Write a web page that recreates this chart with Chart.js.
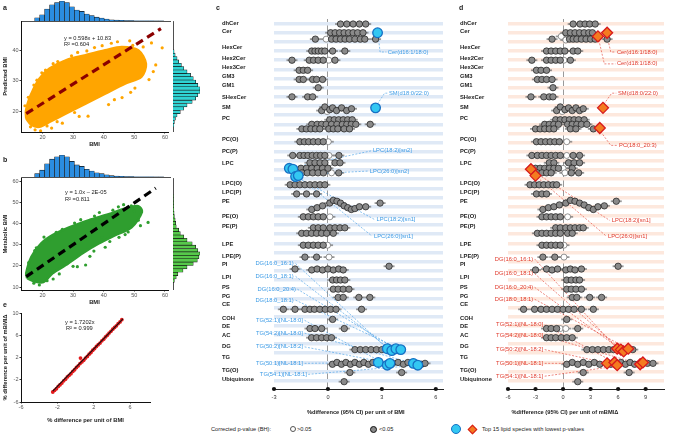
<!DOCTYPE html>
<html>
<head>
<meta charset="utf-8">
<title>BMI, metabolic BMI and lipid species</title>
<script src="https://cdn.jsdelivr.net/npm/chart.js@4.4.1/dist/chart.umd.min.js"></script>
<style>
  body { margin: 0; width: 674px; height: 436px; position: relative; overflow: hidden; background: #fff;
         font-family: "Liberation Sans", Arial, sans-serif; color: #222; }
  canvas { position: absolute; }
  .txt { position: absolute; white-space: nowrap; font-size: 5.7px; line-height: 6px; }
  .tag { position: absolute; font-weight: bold; font-size: 7px; line-height: 7px; }
  .dot { position: absolute; border-radius: 50%; box-sizing: border-box; }
</style>
</head>
<body>
<canvas id="aTop" width="172" height="22" style="left:0;top:0"></canvas>
<canvas id="aMain" width="172" height="141" style="left:0;top:10px"></canvas>
<canvas id="aRight" width="30" height="111" style="left:172px;top:21px"></canvas>
<canvas id="bTop" width="172" height="24" style="left:0;top:154px"></canvas>
<canvas id="bMain" width="172" height="141" style="left:0;top:165px"></canvas>
<canvas id="bRight" width="30" height="112" style="left:172px;top:178px"></canvas>
<canvas id="eMain" width="172" height="128" style="left:0;top:300px"></canvas>
<canvas id="cMain" width="228" height="420" style="left:222px;top:0"></canvas>
<canvas id="dMain" width="212" height="420" style="left:460px;top:0"></canvas>

<div class="tag" style="left:3px;top:4px">a</div>
<div class="tag" style="left:3px;top:156px">b</div>
<div class="tag" style="left:3px;top:301px">e</div>
<div class="tag" style="left:216px;top:4px">c</div>
<div class="tag" style="left:459px;top:4px">d</div>

<div class="txt" style="left:64px;top:35px">y = 0.598x + 10.83</div>
<div class="txt" style="left:64px;top:41px">R² =0.604</div>
<div class="txt" style="left:65px;top:189px">y = 1.0x – 2E-05</div>
<div class="txt" style="left:65px;top:196px">R² =0.811</div>
<div class="txt" style="left:65px;top:319px">y = 1.7202x</div>
<div class="txt" style="left:66px;top:325px">R² = 0.999</div>

<div class="txt" style="left:211px;top:426px">Corrected p-value (BH):</div>
<div class="dot" style="left:290px;top:426px;width:6px;height:6px;border:0.8px solid #555;background:#fff"></div>
<div class="txt" style="left:297px;top:426px">&gt;0.05</div>
<div class="dot" style="left:370px;top:425.5px;width:7px;height:7px;border:0.8px solid #111;background:#8a8a8a"></div>
<div class="txt" style="left:379px;top:426px">&lt;0.05</div>
<div class="dot" style="left:451px;top:424px;width:10px;height:10px;border:1.5px solid #1670c4;background:#33c7f2"></div>
<div style="position:absolute;left:469px;top:425.5px;width:7px;height:7px;transform:rotate(45deg);box-sizing:border-box;border:1.3px solid #d7191c;background:#f47b20"></div>
<div class="txt" style="left:482px;top:426px">Top 15 lipid species with lowest p-values</div>

<script>
// ---------- a / b : distributions and scatter clouds ----------
const bmiBins = [18.2, 19.8, 21.4, 23.0, 24.6, 26.2, 27.8, 29.4, 31.0, 32.6, 34.2, 35.8, 37.4, 39.0,
                 40.6, 42.2, 43.8, 45.4, 47.0, 48.6, 50.2, 51.8, 53.4, 55.0, 56.6, 58.2];
const bmiCounts = [16, 31, 60, 81, 92, 100, 92, 71, 55, 48, 35, 27, 19, 15,
                   10, 6, 4, 3, 2, 1.5, 1, 1, 0.6, 0.5, 0.4, 0.3];

const predBins = [15.4, 16.5, 17.6, 18.7, 19.8, 20.9, 22.0, 23.1, 24.2, 25.3, 26.4, 27.5,
                  28.6, 29.7, 30.8, 31.9, 33.0, 34.1, 35.2, 36.3, 37.4, 38.5, 39.6];
const predCounts = [3, 5, 9, 15, 27, 40, 52, 71, 84, 92, 100, 100, 92, 84, 75, 65, 52, 40, 31, 21, 15, 8, 4];

const metBins = [13.0, 14.6, 16.2, 17.8, 19.4, 21.0, 22.6, 24.2, 25.8, 27.4, 29.0, 30.6, 32.2,
                 33.8, 35.4, 37.0, 38.6, 40.2, 41.8, 43.4, 45.0, 46.6, 48.2, 49.8, 51.4, 53.0];
const metCounts = [5, 12, 18, 37, 52, 75, 90, 96, 100, 92, 84, 71, 52, 40, 27, 21, 12, 10, 8, 5, 4, 3, 2, 1.5, 1, 0.8];

// outline of the dense part of each cloud (BMI, other BMI)
const predCloud = [[14.7, 17.6], [14.6, 20.0], [15.6, 23.8], [16.9, 26.9], [19.0, 30.7], [22.3, 34.0],
                   [27.6, 36.7], [34.1, 38.4], [40.5, 40.0], [45.9, 41.1], [51.3, 40.0], [53.8, 35.5],
                   [52.3, 31.3], [47.0, 29.1], [40.5, 25.8], [34.1, 22.5], [27.6, 19.2], [22.3, 16.5],
                   [19.0, 14.9], [16.3, 15.6], [14.7, 17.6]];
const predPoints = [[14.3, 21.8], [15.4, 24.6], [16.1, 14.9], [17.6, 13.9], [19.4, 13.6], [21.5, 15.2],
                    [24.8, 16.6], [30.5, 19.6], [34.9, 18.4], [41.6, 22.2], [46.0, 24.5], [50.2, 27.6],
                    [54.8, 30.4], [59.1, 40.8], [55.6, 42.4], [52.9, 41.1], [48.5, 43.1], [44.5, 42.8],
                    [39.5, 41.5], [34.5, 39.8], [29.5, 38.2], [25.0, 36.3], [21.0, 33.5], [18.2, 30.2],
                    [57.0, 35.2], [37.5, 25.8], [23.0, 14.5], [26.5, 16.1], [32.0, 18.3], [43.5, 23.8],
                    [48.8, 26.2], [56.2, 33.0], [17.2, 28.6], [19.8, 32.6], [23.5, 35.6], [31.5, 39.3],
                    [37.0, 40.9], [42.5, 42.3], [49.5, 41.6]];
const predFitX = [14.7, 58.7];
const predFitY = [19.2, 47.1];

const metCloud = [[15.0, 14.2], [14.7, 16.5], [16.4, 24.3], [19.6, 30.6], [23.3, 34.5], [28.7, 38.2],
                  [35.2, 41.6], [41.6, 44.4], [47.0, 47.1], [51.3, 48.2], [52.5, 45.5], [49.1, 38.2],
                  [43.8, 34.5], [38.4, 30.6], [33.0, 25.9], [27.6, 20.4], [23.3, 16.5], [20.3, 12.3],
                  [17.5, 12.6], [15.0, 14.2]];
const metPoints = [[51.3, 41.6], [54.5, 40.5], [39.5, 33.4], [34.1, 20.4], [31.4, 19.6], [22.3, 32.2],
                   [17.5, 27.2], [15.5, 21.5], [28.0, 21.0], [45.0, 33.5], [48.0, 36.0], [50.0, 45.9],
                   [44.8, 47.9], [38.6, 45.2], [32.5, 41.8], [26.5, 37.3], [20.5, 33.6], [19.0, 11.0],
                   [23.5, 13.8], [36.8, 27.0], [42.0, 31.5], [46.5, 48.9], [16.0, 18.0], [17.2, 11.8],
                   [21.5, 13.0], [25.5, 16.2], [30.0, 19.8], [35.5, 24.5], [40.5, 28.8], [47.0, 34.8],
                   [52.0, 39.0], [18.0, 28.5], [24.5, 35.8], [30.5, 40.2], [37.0, 43.5], [43.0, 46.3],
                   [49.0, 48.4]];
const metFitX = [14.7, 57.0];
const metFitY = [14.9, 56.7];

const bmiTicks = [20, 30, 40, 50, 60];
const predTicks = [20, 30, 40];
const metTicks = [10, 20, 30, 40, 50, 60];

// ---------- e : effect per BMI vs effect per mBMI ----------
const effBmi = [-2.5, -2.3, -2.1, -1.9, -1.7, -1.5, -1.3, -1.1, -0.9, -0.7, -0.5, -0.3, -0.1, 0.1, 0.3, 0.5,
                0.55, 0.7, 0.9, 1.1, 1.3, 1.5, 1.7, 1.9, 2.1, 2.3, 2.5, 2.7, 2.9, 3.1, 3.3, 3.5, 3.7, 3.9,
                4.1, 4.3, 4.5, 4.7, 4.9, 5.1];
const effMbmi = [-4.2, -3.9, -3.6, -3.2, -2.9, -2.6, -2.2, -1.9, -1.5, -1.2, -0.9, -0.5, -0.2, 0.2, 0.5, 0.9,
                 1.9, 1.2, 1.5, 1.9, 2.2, 2.6, 2.9, 3.3, 3.6, 4.0, 4.3, 4.6, 5.0, 5.3, 5.7, 6.0, 6.4, 6.7,
                 7.1, 7.4, 7.7, 8.1, 8.4, 8.8];
const effFitX = [-2.5, 5.22];
const effFitY = [-4.05, 8.93];
const effXTicks = [-6, -2, 2, 6];
const effYTicks = [-6, -2, 2, 6, 10];

// ---------- c / d : lipid classes ----------
const lipidClasses = ['dhCer', 'Cer', 'HexCer', 'Hex2Cer', 'Hex3Cer', 'GM3', 'GM1', 'SHexCer', 'SM', 'PC',
                      'PC(O)', 'PC(P)', 'LPC', 'LPC(O)', 'LPC(P)', 'PE', 'PE(O)', 'PE(P)', 'LPE', 'LPE(P)',
                      'PI', 'LPI', 'PS', 'PG', 'CE', 'COH', 'DE', 'AC', 'DG', 'TG', 'TG(O)', 'Ubiquinone'];
const classRows = [0.44, 1.31, 3.06, 4.26, 5.25, 6.23, 7.21, 8.52, 9.62, 10.82, 13.11, 14.43, 15.74, 17.92,
                   18.91, 19.89, 21.53, 22.62, 24.59, 25.9, 26.78, 28.2, 29.29, 30.27, 31.15, 32.68, 33.55,
                   34.54, 35.74, 36.94, 38.36, 39.34];
const bmiEffTicks = [-3, 0, 3, 6];
const mbmiEffTicks = [-6, -3, 0, 3, 6, 9];

// [% difference, row] per species, panel c (per unit of BMI)
const cSig = [
  [0.7, 0.55], [1.05, 0.55], [1.4, 0.55], [1.75, 0.55], [2.1, 0.55],
  [0.15, 1.5], [0.4, 1.5], [0.65, 1.5], [0.9, 1.5], [1.15, 1.5], [1.4, 1.5], [1.65, 1.5], [1.95, 1.5],
  [-0.7, 2.2], [0.2, 2.2], [0.45, 2.2], [0.7, 2.2], [0.95, 2.2], [1.2, 2.2], [1.5, 2.2], [1.8, 2.2], [2.05, 2.2], [2.65, 2.2],
  [-0.9, 3.5], [-0.72, 3.5], [-0.54, 3.5], [-0.35, 3.5], [-0.17, 3.5], [0.26, 3.5], [0.94, 3.5],
  [-2.0, 4.5], [-1.04, 4.5], [-0.8, 4.5], [-0.54, 4.5], [-0.26, 4.5], [0.39, 4.5],
  [-1.6, 5.6], [-1.37, 5.6], [-1.13, 5.6],
  [-1.6, 6.6], [-1.37, 6.6], [-0.85, 6.6], [-0.63, 6.6], [-0.3, 6.6],
  [-0.54, 7.5],
  [-2.0, 8.5], [-1.13, 8.5], [-0.85, 8.5],
  [-0.35, 10.0], [-0.17, 9.6], [0.1, 9.9], [0.26, 9.7], [0.48, 10.0], [0.76, 9.7], [1.04, 10.0], [1.31, 9.8],
  [0.1, 11.0], [0.35, 11.0], [0.6, 11.0], [0.85, 11.0], [1.1, 11.0], [1.35, 11.0],
  [-0.9, 11.5], [-0.6, 11.5], [-0.35, 11.5], [-0.1, 11.5], [0.2, 11.5], [0.5, 11.5], [0.8, 11.5], [1.05, 11.5], [1.3, 11.5], [1.55, 11.5], [2.35, 11.5],
  [-1.45, 12.0], [-1.2, 12.0], [-0.95, 12.0], [-0.7, 12.0], [-0.45, 12.0], [0.05, 12.0], [0.3, 12.0], [0.55, 12.0], [0.9, 12.0], [1.2, 12.0],
  [-1.56, 13.4], [-1.31, 13.4], [-1.07, 13.4], [-0.81, 13.4], [-0.54, 13.4], [-0.26, 13.4],
  [-1.96, 14.9], [-1.56, 14.9], [-1.33, 14.9], [-1.11, 14.9], [-0.87, 14.9], [-0.63, 14.9], [-0.41, 14.9], [-0.17, 14.9], [0.61, 14.9],
  [-1.0, 15.7], [-0.72, 15.7], [-0.44, 15.7], [-0.17, 15.7], [0.39, 15.7], [0.67, 15.7],
  [-1.5, 16.3], [-1.2, 16.3], [-0.9, 16.3], [-0.6, 16.3], [-0.3, 16.3], [0.0, 16.3],
  [-1.75, 16.8], [-1.45, 16.8], [-1.15, 16.8], [-0.85, 16.8], [-0.55, 16.8], [-0.25, 16.8], [0.6, 16.8],
  [-2.1, 18.1], [-1.83, 18.1], [-1.56, 18.1], [-1.28, 18.1], [-1.0, 18.1], [-0.72, 18.1], [-0.44, 18.1], [-0.17, 18.1],
  [-1.74, 19.1], [-1.19, 19.1], [-0.63, 19.1],
  [-0.9, 20.8], [-0.6, 20.6], [-0.3, 20.4], [0.1, 20.1], [0.3, 19.8], [0.5, 19.9], [0.7, 20.1], [0.9, 20.4], [1.1, 20.6], [1.3, 20.8], [1.5, 20.7], [1.75, 20.5], [2.1, 20.5], [2.9, 20.1],
  [-1.37, 21.6], [-1.09, 21.6], [-0.81, 21.6], [-0.54, 21.6], [-0.26, 21.6],
  [-0.81, 22.8], [-0.54, 22.8], [-0.26, 22.8], [0.11, 22.8], [0.39, 22.8], [0.67, 22.8], [0.94, 22.8],
  [-1.46, 23.4], [-1.19, 23.4], [-0.91, 23.4], [-0.63, 23.4], [-0.35, 23.4], [-0.07, 23.4], [0.3, 23.4],
  [-1.37, 24.7], [-1.09, 24.7], [-0.81, 24.7], [-0.54, 24.7], [-0.26, 24.7],
  [-1.28, 26.0], [-0.63, 26.0],
  [-1.83, 27.3], [-0.9, 27.4], [-0.6, 27.3], [-0.3, 27.4], [0.0, 27.3], [0.3, 27.4], [0.6, 27.3], [0.85, 27.4], [3.4, 27.0],
  [0.26, 28.5], [0.48, 28.5], [0.7, 28.5], [0.94, 28.5],
  [0.3, 29.5], [0.57, 29.5], [0.85, 29.5], [1.17, 29.5],
  [0.57, 30.4], [0.85, 30.4], [1.72, 30.4], [2.33, 30.4],
  [-2.48, 31.7], [-1.83, 31.7], [-1.28, 31.7], [-1.0, 31.7], [-0.75, 31.7], [-0.45, 31.7], [-0.15, 31.7], [0.15, 31.7], [0.45, 31.7], [1.87, 31.7],
  [0.26, 32.8],
  [-1.0, 33.8], [-0.72, 33.8], [-0.35, 33.8], [0.91, 33.8],
  [-0.91, 34.8], [-0.63, 34.8], [-0.35, 34.8], [-0.07, 34.8], [0.2, 34.8],
  [1.5, 36.1], [1.8, 36.1], [2.1, 36.1], [2.4, 36.1], [2.7, 36.1], [3.0, 36.1], [3.9, 36.2],
  [0.25, 37.7], [0.5, 37.5], [0.75, 37.7], [1.0, 37.5], [1.25, 37.7], [1.5, 37.5], [1.75, 37.7], [2.0, 37.5], [2.25, 37.7], [2.5, 37.5],
  [3.6, 37.6], [3.9, 37.5], [4.2, 37.7], [4.45, 37.5], [5.2, 37.7], [5.4, 37.6],
  [1.22, 38.6], [4.1, 38.6],
  [0.9, 39.6]
];
const cNs = [[-0.1, 2.2], [0.05, 4.5], [-0.05, 10.1], [0.02, 13.4], [0.06, 14.9], [0.11, 15.7], [0.2, 16.8],
             [0.11, 21.6], [-0.02, 24.7], [0.06, 26.0]];
const cTop = [[2.76, 1.5], [2.65, 9.7], [-2.15, 16.3], [-1.95, 16.4], [-1.8, 17.2], [-1.65, 17.1],
              [3.3, 36.0], [3.55, 36.2], [3.78, 36.0], [4.05, 36.1],
              [2.8, 37.5], [3.3, 37.8], [3.45, 37.6], [4.75, 37.6], [5.0, 37.8]];

// panel d (per unit of mBMI delta)
const dSig = [
  [1.1, 0.55], [1.85, 0.55], [2.4, 0.55], [2.9, 0.55], [3.5, 0.55],
  [0.3, 1.5], [0.8, 1.5], [1.3, 1.5], [1.8, 1.5], [2.3, 1.5], [2.8, 1.5], [3.2, 1.5],
  [-1.2, 2.2], [0.7, 2.2], [1.1, 2.2], [1.5, 2.2], [2.0, 2.2], [2.5, 2.2], [3.0, 2.2], [3.5, 2.2], [4.8, 2.2],
  [-1.8, 3.5], [-1.3, 3.5], [-0.8, 3.5], [-0.3, 3.5], [0.2, 3.5], [1.1, 3.5], [1.6, 3.5],
  [-3.4, 4.5], [-1.8, 4.5], [-1.3, 4.5], [-0.8, 4.5], [-0.3, 4.5], [0.8, 4.5],
  [-2.9, 5.6], [-2.4, 5.6], [-1.8, 5.6],
  [-2.8, 6.6], [-2.3, 6.6], [-1.8, 6.6], [-1.2, 6.6],
  [-1.1, 7.5],
  [-3.5, 8.5], [-2.1, 8.5], [-1.5, 8.5], [-1.1, 8.5],
  [-0.7, 10.0], [-0.3, 9.6], [0.2, 9.9], [0.6, 9.7], [1.0, 10.0], [1.4, 9.7], [1.8, 10.0], [2.2, 9.8],
  [-0.8, 11.0], [-0.3, 11.0], [0.2, 11.0], [0.7, 11.0], [1.2, 11.0], [1.7, 11.0], [2.3, 11.0],
  [-2.0, 11.5], [-1.5, 11.5], [-1.0, 11.5], [-0.5, 11.5], [0.5, 11.5], [1.0, 11.5], [1.5, 11.5], [2.0, 11.5], [2.6, 11.5],
  [-3.0, 12.0], [-2.5, 12.0], [-2.0, 12.0], [-1.5, 12.0], [-1.0, 12.0], [0.8, 12.0], [1.4, 12.0], [3.3, 12.0],
  [-2.9, 13.4], [-2.4, 13.4], [-1.9, 13.4], [-1.4, 13.4], [-0.9, 13.4], [-0.4, 13.4],
  [-3.4, 14.9], [-2.8, 14.9], [-2.3, 14.9], [-1.8, 14.9], [-1.3, 14.9], [-0.8, 14.9], [-0.3, 14.9], [1.1, 14.9], [1.8, 14.9],
  [-1.5, 15.7], [-1.0, 15.7], [0.6, 15.7], [1.2, 15.7], [1.8, 15.7],
  [-3.0, 16.3], [-2.5, 16.3], [-2.0, 16.3], [-1.5, 16.3], [-1.0, 16.3], [-0.5, 16.3], [1.0, 16.3],
  [-2.8, 16.8], [-2.3, 16.8], [-1.8, 16.8], [-1.3, 16.8], [0.9, 16.8], [1.7, 16.8],
  [-3.6, 18.1], [-3.1, 18.1], [-2.6, 18.1], [-2.1, 18.1], [-1.6, 18.1], [-1.1, 18.1], [-0.7, 18.1],
  [-2.9, 19.1], [-2.3, 19.1], [-1.8, 19.1],
  [-2.2, 20.8], [-1.6, 20.6], [-1.0, 20.5], [-0.4, 20.3], [0.3, 20.1], [0.8, 19.8], [1.3, 19.9], [1.8, 20.1], [2.3, 20.3], [2.8, 20.6], [3.3, 20.8], [3.8, 20.5], [4.5, 20.4], [5.8, 19.9],
  [-2.3, 21.6], [-1.8, 21.6], [-1.3, 21.6], [-0.8, 21.6], [-0.3, 21.6],
  [-0.8, 22.8], [-0.3, 22.8], [0.3, 22.8], [0.8, 22.8], [1.3, 22.8], [1.8, 22.8], [2.2, 22.8],
  [-2.8, 23.4], [-2.3, 23.4], [-1.8, 23.4], [-1.3, 23.4], [-0.8, 23.4], [-0.3, 23.4], [0.5, 23.4], [1.0, 23.4],
  [-2.3, 24.7], [-1.8, 24.7], [-1.3, 24.7], [-0.8, 24.7], [-0.3, 24.7],
  [-2.2, 26.0], [-0.9, 26.0],
  [-3.0, 27.4], [-1.8, 27.3], [-1.2, 27.4], [-0.6, 27.3], [0.3, 27.4], [0.8, 27.3], [1.3, 27.4], [2.0, 27.3], [6.0, 27.0],
  [0.4, 28.5], [0.9, 28.5], [1.4, 28.5], [1.8, 28.5],
  [0.4, 29.5], [0.9, 29.5], [1.4, 29.5], [2.0, 29.5],
  [1.0, 30.4], [1.5, 30.4], [2.9, 30.4], [4.2, 30.4],
  [-4.3, 31.7], [-3.1, 31.7], [-2.4, 31.7], [-1.8, 31.7], [-1.2, 31.7], [-0.6, 31.7], [0.0, 31.7], [0.6, 31.7], [1.2, 31.7], [2.0, 31.7], [3.3, 31.7],
  [0.4, 32.8],
  [-1.8, 33.8], [-1.3, 33.8], [-0.7, 33.8], [1.6, 33.8],
  [-1.8, 34.8], [-1.3, 34.8], [-0.8, 34.8], [-0.2, 34.8], [0.4, 34.8], [1.0, 34.8],
  [2.6, 36.1], [3.2, 36.1], [3.8, 36.1], [4.4, 36.1], [5.0, 36.1], [5.5, 36.1], [7.6, 36.1],
  [0.4, 37.7], [1.0, 37.5], [1.6, 37.7], [2.2, 37.5], [2.8, 37.7], [3.4, 37.5], [4.0, 37.7], [5.2, 37.7],
  [6.3, 37.5], [6.8, 37.7], [7.3, 37.5], [7.8, 37.7], [9.2, 37.6], [9.8, 37.6],
  [2.2, 38.6], [7.2, 38.6],
  [1.6, 39.6]
];
const dNs = [[-0.2, 1.9], [0.3, 2.3], [0.1, 4.5], [-0.1, 10.1], [0.4, 13.4], [0.4, 14.9], [0.0, 16.3], [0.2, 16.8],
             [0.5, 21.6], [0.1, 24.7], [0.1, 26.0], [-0.3, 33.8], [0.3, 33.8]];
const dTop = [[3.8, 1.9], [4.8, 1.5], [4.35, 9.7], [4.0, 11.9], [-3.5, 16.4], [-3.0, 17.1],
              [5.9, 36.0], [6.3, 36.1], [6.6, 36.3], [7.1, 36.0],
              [4.8, 37.6], [5.6, 37.5], [5.9, 37.8], [8.4, 37.7], [8.7, 37.5]];

// call-out labels: text, anchor (value, row), alignment and leader path
const cNotes = [
  {text: 'Cer(d16:1/18:0)', x: 3.33, y: 3.6, align: 'left', path: [[2.8, 1.9], [2.9, 3.6], [3.25, 3.6]]},
  {text: 'SM(d18:0/22:0)', x: 3.39, y: 8.1, align: 'left', path: [[2.75, 9.3], [3.15, 8.1], [3.3, 8.1]]},
  {text: 'LPC(18:2)[sn2]', x: 2.5, y: 14.4, align: 'left', path: [[-1.9, 16.2], [2.4, 14.4]]},
  {text: 'LPC(26:0)[sn2]', x: 2.33, y: 16.6, align: 'left', path: [[-1.6, 17.0], [2.25, 16.6]]},
  {text: 'LPC(18:2)[sn1]', x: 2.7, y: 21.9, align: 'left', path: [[-1.8, 17.2], [2.6, 21.9]]},
  {text: 'LPC(26:0)[sn1]', x: 2.56, y: 23.7, align: 'left', path: [[-1.65, 17.2], [2.45, 23.7]]},
  {text: 'DG(16:0_16:1)', x: -1.9, y: 26.7, align: 'right', path: [[-1.8, 26.7], [3.3, 36.0]]},
  {text: 'DG(16:0_18:1)', x: -1.9, y: 28.1, align: 'right', path: [[-1.8, 28.1], [3.55, 36.2]]},
  {text: 'DG(16:0_20:4)', x: -1.78, y: 29.5, align: 'right', path: [[-1.7, 29.5], [3.78, 36.0]]},
  {text: 'DG(18:0_18:1)', x: -1.9, y: 30.7, align: 'right', path: [[-1.8, 30.7], [4.05, 36.1]]},
  {text: 'TG(52:1)[NL-18:0]', x: -1.39, y: 32.9, align: 'right', path: [[-1.3, 32.9], [3.3, 37.8]]},
  {text: 'TG(54:2)[NL-18:0]', x: -1.39, y: 34.3, align: 'right', path: [[-1.3, 34.3], [4.75, 37.6]]},
  {text: 'TG(50:2)[NL-18:2]', x: -1.39, y: 35.8, align: 'right', path: [[-1.3, 35.8], [3.45, 37.6]]},
  {text: 'TG(50:1)[NL-18:1]', x: -1.39, y: 37.6, align: 'right', path: [[-1.3, 37.6], [2.8, 37.5]]},
  {text: 'TG(54:1)[NL-18:1]', x: -1.17, y: 38.8, align: 'right', path: [[-1.1, 38.8], [5.0, 37.8]]}
];
const dNotes = [
  {text: 'Cer(d16:1/18:0)', x: 5.87, y: 3.6, align: 'left', path: [[4.8, 1.9], [5.2, 3.6], [5.7, 3.6]]},
  {text: 'Cer(d18:1/18:0)', x: 5.87, y: 4.9, align: 'left', path: [[3.9, 2.3], [4.5, 4.9], [5.7, 4.9]]},
  {text: 'SM(d18:0/22:0)', x: 5.98, y: 8.1, align: 'left', path: [[4.45, 9.3], [5.3, 8.1], [5.8, 8.1]]},
  {text: 'PC(18:0_20:3)', x: 6.1, y: 13.8, align: 'left', path: [[4.1, 12.3], [5.2, 13.8], [5.9, 13.8]]},
  {text: 'LPC(18:2)[sn1]', x: 5.3, y: 22.0, align: 'left', path: [[-3.3, 16.6], [5.1, 22.0]]},
  {text: 'LPC(26:0)[sn1]', x: 4.9, y: 23.7, align: 'left', path: [[-2.8, 17.3], [4.7, 23.7]]},
  {text: 'DG(16:0_16:1)', x: -3.26, y: 26.2, align: 'right', path: [[-3.1, 26.2], [5.9, 36.0]]},
  {text: 'DG(16:0_18:1)', x: -3.26, y: 27.8, align: 'right', path: [[-3.1, 27.8], [6.3, 36.1]]},
  {text: 'DG(16:0_20:4)', x: -3.26, y: 29.3, align: 'right', path: [[-3.1, 29.3], [6.6, 36.3]]},
  {text: 'DG(18:0_18:1)', x: -3.26, y: 30.6, align: 'right', path: [[-3.1, 30.6], [7.1, 36.0]]},
  {text: 'TG(52:1)[NL-18:0]', x: -2.17, y: 33.4, align: 'right', path: [[-2.0, 33.4], [5.6, 37.5]]},
  {text: 'TG(54:2)[NL-18:0]', x: -2.17, y: 34.6, align: 'right', path: [[-2.0, 34.6], [8.4, 37.7]]},
  {text: 'TG(50:2)[NL-18:2]', x: -2.17, y: 36.1, align: 'right', path: [[-2.0, 36.1], [5.9, 37.8]]},
  {text: 'TG(50:1)[NL-18:1]', x: -2.17, y: 37.6, align: 'right', path: [[-2.0, 37.6], [4.8, 37.6]]},
  {text: 'TG(54:1)[NL-18:1]', x: -2.17, y: 39.0, align: 'right', path: [[-2.0, 39.0], [8.7, 37.5]]}
];

// ---------- helpers ----------
Chart.defaults.font.family = '"Liberation Sans", Arial, sans-serif';
Chart.defaults.color = '#444';
Chart.defaults.animation = false;
Chart.defaults.responsive = false;
Chart.defaults.events = [];
Chart.defaults.plugins.legend.display = false;
Chart.defaults.plugins.tooltip.enabled = false;

const FONT = '"Liberation Sans", Arial, sans-serif';
const pts = arr => arr.map(p => ({x: p[0], y: p[1]}));
const xy = (xs, ys) => xs.map((x, i) => ({x: x, y: ys[i]}));
const fixSize = px => scale => { if (scale.isHorizontal()) scale.height = px; else scale.width = px; };
const useTicks = vals => scale => { scale.ticks = vals.map(v => ({value: v})); };

function histogram(id, bins, counts, o) {
  const horizontal = o.horizontal;
  const data = bins.map((b, i) => horizontal ? {x: counts[i], y: b} : {x: b, y: counts[i]});
  const binAxis = {type: 'linear', min: o.min, max: o.max, offset: false, afterFit: fixSize(1),
                   grid: {display: false}, border: {display: true, color: '#222', width: 0.8},
                   ticks: {display: false}};
  const countAxis = {type: 'linear', display: false, min: 0, max: 100};
  new Chart(document.getElementById(id), {
    type: 'bar',
    data: {datasets: [{data: data, backgroundColor: o.color, borderColor: '#111', borderWidth: 0.6,
                       barPercentage: 1, categoryPercentage: 1}]},
    options: {
      indexAxis: horizontal ? 'y' : 'x',
      layout: {padding: o.padding},
      scales: horizontal ? {y: binAxis, x: countAxis} : {x: binAxis, y: countAxis}
    }
  });
}

function scatterPanel(id, o) {
  const tickFont = {size: 5.5};
  const titleFont = {size: 5.8, weight: 'bold'};
  new Chart(document.getElementById(id), {
    type: 'scatter',
    data: {datasets: o.datasets},
    options: {
      layout: {padding: o.padding},
      scales: {
        x: {type: 'linear', min: o.xMin, max: o.xMax, afterBuildTicks: useTicks(o.xTicks), afterFit: fixSize(o.xSize),
            grid: {drawOnChartArea: false, tickLength: 1.5, color: '#333'},
            border: {color: '#111', width: 1},
            ticks: {font: tickFont, color: '#555', padding: 0.5, maxRotation: 0, autoSkip: false},
            title: {display: true, text: o.xTitle, font: titleFont, color: '#222', padding: {top: 0, bottom: o.xTitlePad}}},
        y: {type: 'linear', min: o.yMin, max: o.yMax, afterBuildTicks: useTicks(o.yTicks), afterFit: fixSize(21),
            grid: {drawOnChartArea: false, tickLength: 1.5, color: '#333'},
            border: {color: '#111', width: 1},
            ticks: {font: tickFont, color: '#555', padding: 1, autoSkip: false},
            title: {display: true, text: o.yTitle, font: titleFont, color: '#222', padding: {top: 2.2, bottom: 0}}}
      }
    }
  });
}

const axisDots = {
  id: 'axisDots',
  afterDraw(chart) {
    const {ctx, chartArea, scales: {x}} = chart;
    ctx.save();
    ctx.fillStyle = '#111';
    x.ticks.forEach(t => {
      ctx.beginPath();
      ctx.arc(x.getPixelForValue(t.value), chartArea.bottom, 2.1, 0, Math.PI * 2);
      ctx.fill();
    });
    ctx.restore();
  }
};

// short grey whiskers behind each species marker (confidence interval look)
const whiskers = {
  id: 'whiskers',
  beforeDatasetsDraw(chart) {
    const {ctx} = chart;
    ctx.save();
    ctx.strokeStyle = 'rgba(120,120,120,0.75)';
    ctx.lineWidth = 1.8;
    [1, 2].forEach(di => {
      chart.getDatasetMeta(di).data.forEach(el => {
        ctx.beginPath();
        ctx.moveTo(el.x - 5.5, el.y);
        ctx.lineTo(el.x + 5.5, el.y);
        ctx.stroke();
      });
    });
    ctx.restore();
  }
};

function callouts(notes, color, title, titleAt) {
  return {
    id: 'callouts',
    beforeDatasetsDraw(chart) {
      const {ctx, scales: {x, y}} = chart;
      ctx.save();
      ctx.strokeStyle = color;
      ctx.lineWidth = 0.6;
      ctx.setLineDash([2, 1.5]);
      notes.forEach(n => {
        ctx.beginPath();
        n.path.forEach((p, i) => {
          const px = x.getPixelForValue(p[0]), py = y.getPixelForValue(p[1]);
          if (i) ctx.lineTo(px, py); else ctx.moveTo(px, py);
        });
        ctx.stroke();
      });
      ctx.restore();
    },
    afterDraw(chart) {
      const {ctx, chartArea, scales: {x, y}} = chart;
      ctx.save();
      ctx.fillStyle = color;
      ctx.font = '5.8px ' + FONT;
      ctx.textBaseline = 'middle';
      notes.forEach(n => {
        ctx.textAlign = n.align;
        ctx.fillText(n.text, x.getPixelForValue(n.x), y.getPixelForValue(n.y));
      });
      ctx.fillStyle = '#222';
      ctx.font = 'bold 5.7px ' + FONT;
      ctx.textAlign = 'center';
      ctx.fillText(title, x.getPixelForValue(titleAt), chartArea.bottom + 23);
      ctx.restore();
    }
  };
}

function forestPanel(id, o) {
  const stripeRows = [];
  for (let r = 0.5; r < 40; r += 1) stripeRows.push(r);
  new Chart(document.getElementById(id), {
    type: 'scatter',
    data: {datasets: [
      o.top,
      {data: pts(o.sig), pointRadius: 3.2, backgroundColor: '#8a8a8a', borderColor: '#1a1a1a', borderWidth: 0.7},
      {data: pts(o.ns), pointRadius: 3.0, backgroundColor: '#ffffff', borderColor: '#666', borderWidth: 0.7}
    ]},
    options: {
      layout: {padding: {left: 0, top: 19, right: o.padRight, bottom: 0}},
      scales: {
        x: {type: 'linear', min: o.xMin, max: o.xMax, afterBuildTicks: useTicks(o.xTicks), afterFit: fixSize(31),
            grid: {color: c => (c.tick && c.tick.value === 0) ? '#9a9a9a' : 'rgba(0,0,0,0)', lineWidth: 1, drawTicks: false},
            border: {display: true, color: '#222', width: 1},
            ticks: {font: {size: 5.6}, color: '#333', padding: 5.4, maxRotation: 0, autoSkip: false}},
        y: {type: 'linear', min: 0, max: 40.4, reverse: true, afterBuildTicks: useTicks(classRows), afterFit: fixSize(o.labelWidth),
            grid: {display: false}, border: {display: false},
            ticks: {crossAlign: 'far', autoSkip: false, padding: 0, font: {size: 5.8, weight: 'bold'}, color: '#222',
                    callback: v => lipidClasses[classRows.indexOf(v)] || ''}},
        ys: {type: 'linear', position: 'right', min: 0, max: 40.4, reverse: true, z: -1,
             afterBuildTicks: useTicks(stripeRows), afterFit: fixSize(0),
             grid: {color: o.stripe, lineWidth: 3.6, drawTicks: false}, border: {display: false},
             ticks: {display: false}}
      }
    },
    plugins: [whiskers, callouts(o.notes, o.noteColor, o.title, o.titleAt), axisDots]
  });
}

// ---------- draw ----------
histogram('aTop', bmiBins, bmiCounts, {min: 13, max: 61, color: '#2b8de0', padding: {left: 21, right: 2, top: 1, bottom: 0}});
histogram('bTop', bmiBins, bmiCounts, {min: 13, max: 61, color: '#2b8de0', padding: {left: 21, right: 2, top: 1, bottom: 0}});
histogram('aRight', predBins, predCounts, {horizontal: true, min: 13.2, max: 49.6, color: '#2fd3d3', padding: {left: 0, right: 2, top: 0, bottom: 0}});
histogram('bRight', metBins, metCounts, {horizontal: true, min: 8.6, max: 61.5, color: '#56c94a', padding: {left: 0, right: 2, top: 0, bottom: 0}});

scatterPanel('aMain', {
  padding: {left: 0, top: 11, right: 2, bottom: 0}, xSize: 19, xTitlePad: 3.4,
  xMin: 13, xMax: 61, yMin: 13.2, yMax: 49.6, xTicks: bmiTicks, yTicks: predTicks,
  xTitle: 'BMI', yTitle: 'Predicted BMI',
  datasets: [
    {data: xy(predFitX, predFitY), showLine: true, borderColor: '#8b0000', borderWidth: 3.2, borderDash: [8, 5], pointRadius: 0},
    {data: pts(predPoints), backgroundColor: '#ffa500', borderWidth: 0, pointRadius: 1.6},
    {data: pts(predCloud), showLine: true, fill: 'shape', tension: 0.3, borderColor: '#ffa500',
     backgroundColor: '#ffa500', borderWidth: 2.5, pointRadius: 0}
  ]
});

scatterPanel('bMain', {
  padding: {left: 0, top: 13, right: 2, bottom: 0}, xSize: 16, xTitlePad: 0.4,
  xMin: 13, xMax: 61, yMin: 8.6, yMax: 61.5, xTicks: bmiTicks, yTicks: metTicks,
  xTitle: 'BMI', yTitle: 'Metabolic BMI',
  datasets: [
    {data: xy(metFitX, metFitY), showLine: true, borderColor: '#000', borderWidth: 3.2, borderDash: [8, 5], pointRadius: 0},
    {data: pts(metPoints), backgroundColor: '#2f9e2f', borderWidth: 0, pointRadius: 1.6},
    {data: pts(metCloud), showLine: true, fill: 'shape', tension: 0.3, borderColor: '#2f9e2f',
     backgroundColor: '#2f9e2f', borderWidth: 2.5, pointRadius: 0}
  ]
});

scatterPanel('eMain', {
  padding: {left: 0, top: 13, right: 22, bottom: 0}, xSize: 26, xTitlePad: 4.4,
  xMin: -6, xMax: 8.2, yMin: -6, yMax: 10, xTicks: effXTicks, yTicks: effYTicks,
  xTitle: '% difference per unit of BMI', yTitle: '% difference per unit of mBMIΔ',
  datasets: [
    {data: xy(effFitX, effFitY), showLine: true, borderColor: '#111', borderWidth: 1.1, pointRadius: 0},
    {data: xy(effBmi, effMbmi), backgroundColor: '#e41a1c', borderWidth: 0, pointRadius: 1.9}
  ]
});

forestPanel('cMain', {
  xMin: -3, xMax: 6.4, xTicks: bmiEffTicks, padRight: 7, labelWidth: 52,
  sig: cSig, ns: cNs, stripe: '#dfe9f6', notes: cNotes, noteColor: '#3c9be6',
  title: '%difference (95% CI) per unit of BMI', titleAt: 1.55,
  top: {data: pts(cTop), pointRadius: 4.8, backgroundColor: '#33c7f2', borderColor: '#1670c4', borderWidth: 1.3}
});

forestPanel('dMain', {
  xMin: -6, xMax: 11, xTicks: mbmiEffTicks, padRight: 8, labelWidth: 48,
  sig: dSig, ns: dNs, stripe: '#fde8dd', notes: dNotes, noteColor: '#e0392b',
  title: '%difference (95% CI) per unit of mBMIΔ', titleAt: 0.2,
  top: {data: pts(dTop), pointStyle: 'rectRot', pointRadius: 5.5, backgroundColor: '#f47b20', borderColor: '#d7191c', borderWidth: 1.3}
});
</script>
</body>
</html>
